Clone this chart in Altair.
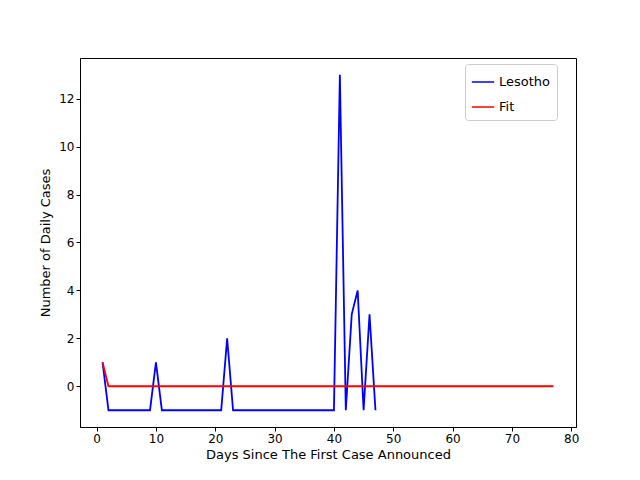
import altair as alt
import pandas as pd

# Lesotho daily cases (days 1..47)
lesotho_days = list(range(1, 48))
lesotho_cases = [1] + [-1] * 8 + [1] + [-1] * 11 + [2] + [-1] * 18 + [13, -1, 3, 4, -1, 3, -1]

# fit (days 1..77)
fit_days = list(range(1, 78))
fit_values = [1] + [0] * 76

df = pd.concat([
  pd.DataFrame({'day': lesotho_days, 'cases': lesotho_cases, 'series': 'Lesotho'}),
  pd.DataFrame({'day': fit_days, 'cases': fit_values, 'series': 'Fit'}),
])

chart = alt.Chart(df).mark_line(strokeWidth=1.8, clip=True).encode(
  x=alt.X('day:Q', title='Days Since The First Case Announced',
          scale=alt.Scale(domain=[-2.8, 80.8], nice=False, zero=False),
          axis=alt.Axis(values=list(range(0, 90, 10)), grid=False, tickSize=4, titlePadding=4)),
  y=alt.Y('cases:Q', title='Number of Daily Cases',
          scale=alt.Scale(domain=[-1.7, 13.7], nice=False, zero=False),
          axis=alt.Axis(values=list(range(0, 14, 2)), grid=False, tickSize=4, titlePadding=6)),
  color=alt.Color('series:N', title=None,
                  scale=alt.Scale(domain=['Lesotho', 'Fit'], range=['#0000ff', '#ff0000']),
                  legend=alt.Legend(orient='none', legendX=385, legendY=6, symbolType='stroke',
                                    symbolSize=500, strokeColor='#cccccc', padding=6,
                                    fillColor='white', cornerRadius=3, labelFontSize=13,
                                    rowPadding=6)),
  order='day:Q'
).properties(
  width=496,
  height=369,
  padding={'left': 72, 'top': 50, 'right': 56, 'bottom': 45},
  autosize=alt.AutoSizeParams(type='none')
).configure_axis(
  labelFont='DejaVu Sans', titleFont='DejaVu Sans', labelFontSize=12, titleFontSize=13,
  titleFontWeight='normal', domainColor='black', tickColor='black', labelColor='black'
).configure_legend(
  labelFont='DejaVu Sans'
).configure_view(stroke='black')

chart.save('out.html', embed_options={'renderer': 'svg', 'actions': False})
